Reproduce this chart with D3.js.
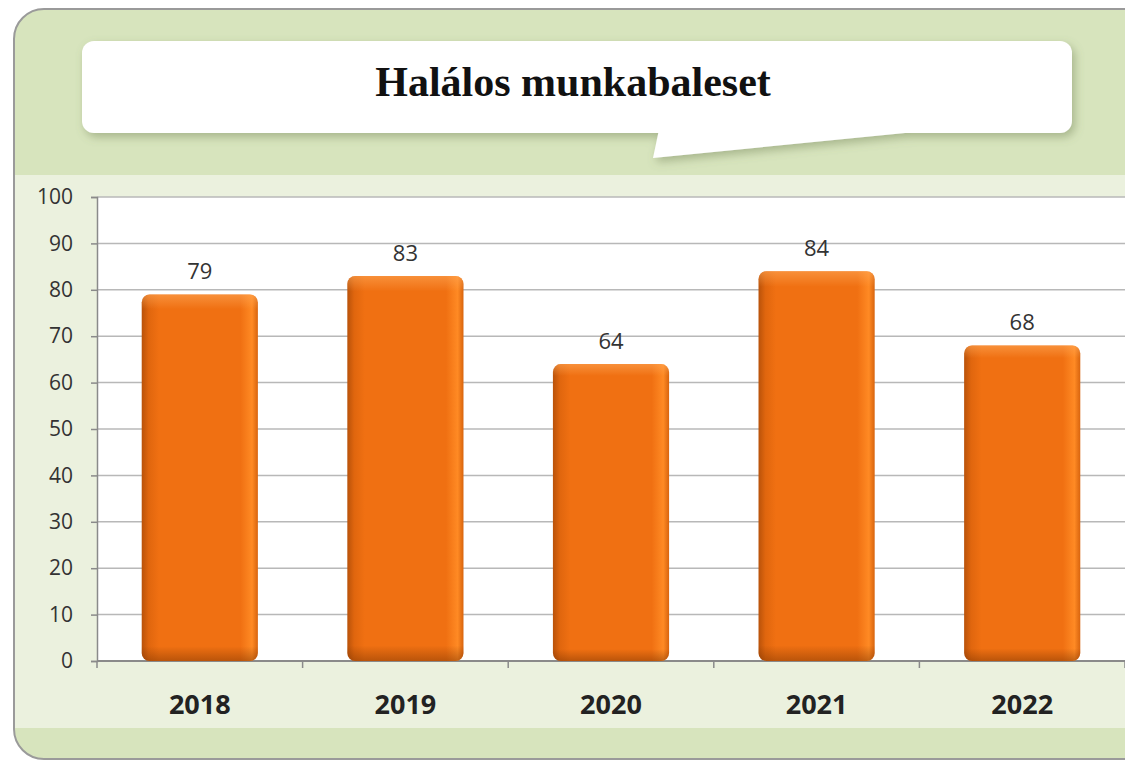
<!DOCTYPE html>
<html>
<head>
<meta charset="utf-8">
<script src="https://cdn.jsdelivr.net/npm/d3@7"></script>
<style>
  body { margin: 0; background: #fff; }
  svg { display: block; }
</style>
</head>
<body>
<div id="chart-area"></div>
<script>
const years = ["2018", "2019", "2020", "2021", "2022"];
const values = [79, 83, 64, 84, 68];
const yTicks = [0, 10, 20, 30, 40, 50, 60, 70, 80, 90, 100];
const title = "Halálos munkabaleset";

const svgWidth = 1125;
const svgHeight = 761;
const margin = { top: 197, right: 0, bottom: 100, left: 97 };
const width = svgWidth - margin.left - margin.right;
const height = 661 - margin.top;

const svg = d3.select("#chart-area")
              .append("svg")
              .attr("width", svgWidth)
              .attr("height", svgHeight);

const defs = svg.append("defs");

// bar gradient: dark left edge, bright body, lighter right rim
const grad = defs.append("linearGradient")
                 .attr("id", "barGrad")
                 .attr("x1", "0").attr("x2", "1").attr("y1", "0").attr("y2", "0");
[[0, "#b9520a"], [0.06, "#e0660e"], [0.15, "#f07012"], [0.85, "#f07012"], [0.95, "#ff8a24"], [1, "#d8640e"]]
  .forEach(([o, c]) => grad.append("stop").attr("offset", o).attr("stop-color", c));

const vgrad = defs.append("linearGradient")
                  .attr("id", "barTop")
                  .attr("x1", "0").attr("x2", "0").attr("y1", "0").attr("y2", "1");
[[0, "rgba(255,170,90,0.55)"], [0.04, "rgba(255,170,90,0)"], [0.96, "rgba(120,50,0,0)"], [1, "rgba(120,50,0,0.45)"]]
  .forEach(([o, c]) => vgrad.append("stop").attr("offset", o).attr("stop-color", c));

const shadow = defs.append("filter").attr("id", "shadow")
                   .attr("x", "-10%").attr("y", "-20%").attr("width", "120%").attr("height", "150%");
shadow.append("feDropShadow").attr("dx", 3).attr("dy", 4).attr("stdDeviation", 5)
      .attr("flood-color", "#6a7a50").attr("flood-opacity", 0.45);

// outer panel
svg.append("rect")
   .attr("x", 14).attr("y", 9)
   .attr("width", 1150).attr("height", 750)
   .attr("rx", 30)
   .attr("fill", "#d7e4bd")
   .attr("stroke", "#9a9a9a")
   .attr("stroke-width", 2);

// lighter plot background
svg.append("rect")
   .attr("x", 15).attr("y", 175)
   .attr("width", 1110).attr("height", 553)
   .attr("fill", "#ebf1de");

// title callout
const callout = svg.append("g").attr("filter", "url(#shadow)");
callout.append("rect")
       .attr("x", 82).attr("y", 41)
       .attr("width", 990).attr("height", 92)
       .attr("rx", 12)
       .attr("fill", "#fff");
callout.append("path")
       .attr("d", "M660,125 L653,158 L905,133 L905,125 Z")
       .attr("fill", "#fff");

svg.append("text")
   .attr("x", 573).attr("y", 96)
   .attr("text-anchor", "middle")
   .attr("font-family", "'Liberation Serif', 'Times New Roman', serif")
   .attr("font-weight", "bold")
   .attr("font-size", 42)
   .attr("fill", "#111")
   .text(title);

const g = svg.append("g")
             .attr("transform", `translate(${margin.left}, ${margin.top})`);

g.append("rect")
 .attr("width", width).attr("height", height)
 .attr("fill", "#fff");

const x = d3.scaleBand()
            .domain(years)
            .range([0, width])
            .paddingInner(0.435)
            .paddingOuter(0.2175);

const y = d3.scaleLinear()
            .domain([0, 100])
            .range([height, 0]);

// gridlines
g.selectAll(".grid")
 .data(yTicks)
 .enter()
 .append("line")
   .attr("class", "grid")
   .attr("x1", 0).attr("x2", width)
   .attr("y1", d => y(d)).attr("y2", d => y(d))
   .attr("stroke", "#b8b8b8")
   .attr("stroke-width", 1.5);

const yAxisCall = d3.axisLeft(y).tickValues(yTicks).tickSize(6).tickPadding(18);
const yAxis = g.append("g").attr("class", "y-axis").call(yAxisCall);
yAxis.select(".domain").attr("stroke", "#8a8a8a").attr("stroke-width", 1.5);
yAxis.selectAll(".tick line").attr("stroke", "#8a8a8a").attr("stroke-width", 1.5);
yAxis.selectAll(".tick text")
     .attr("font-family", "'Open Sans', Lato, sans-serif")
     .attr("font-size", 21)
     .attr("fill", "#333");

// x axis with category boundary ticks
const xAxis = g.append("g").attr("class", "x-axis").attr("transform", `translate(0, ${height})`);
xAxis.append("line")
     .attr("x1", 0).attr("x2", width)
     .attr("stroke", "#8a8a8a").attr("stroke-width", 2);
const step = x.step();
xAxis.selectAll(".xtick")
     .data(d3.range(years.length + 1))
     .enter()
     .append("line")
       .attr("x1", i => i * step).attr("x2", i => i * step)
       .attr("y1", 0).attr("y2", 7)
       .attr("stroke", "#8a8a8a").attr("stroke-width", 1.5);
xAxis.selectAll(".xlabel")
     .data(years)
     .enter()
     .append("text")
       .attr("x", d => x(d) + x.bandwidth() / 2)
       .attr("y", 53)
       .attr("text-anchor", "middle")
       .attr("font-family", "'Open Sans', Lato, sans-serif")
       .attr("font-weight", "bold")
       .attr("font-size", 27)
       .attr("fill", "#222")
       .text(d => d);

// bars
const bars = g.selectAll(".bar")
              .data(years.map((d, i) => ({ year: d, value: values[i] })))
              .enter()
              .append("g")
                .attr("class", "bar");

bars.append("rect")
    .attr("x", d => x(d.year))
    .attr("y", d => y(d.value))
    .attr("width", x.bandwidth())
    .attr("height", d => height - y(d.value))
    .attr("rx", 8)
    .attr("fill", "url(#barGrad)");

bars.append("rect")
    .attr("x", d => x(d.year))
    .attr("y", d => y(d.value))
    .attr("width", x.bandwidth())
    .attr("height", d => height - y(d.value))
    .attr("rx", 8)
    .attr("fill", "url(#barTop)");

bars.append("text")
    .attr("x", d => x(d.year) + x.bandwidth() / 2)
    .attr("y", d => y(d.value) - 15)
    .attr("text-anchor", "middle")
    .attr("font-family", "'Open Sans', Lato, sans-serif")
    .attr("font-size", 22)
    .attr("fill", "#333")
    .text(d => d.value);
</script>
</body>
</html>
